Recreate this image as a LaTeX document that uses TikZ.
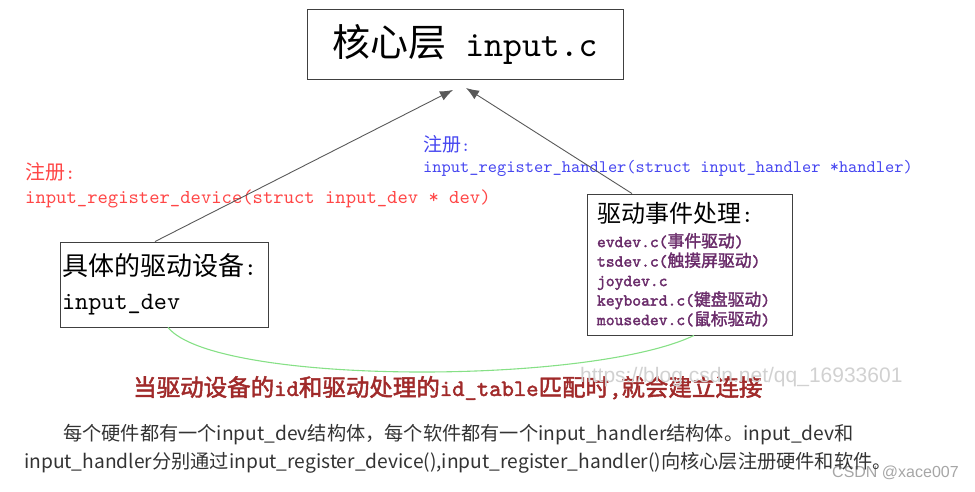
\documentclass[tikz,border=0pt]{standalone}
\usepackage{fontspec}
\usepackage{xcolor}
\usetikzlibrary{arrows.meta}
\newfontfamily\cjk[AutoFakeBold=2]{Noto Sans CJK SC}
\setmonofont[AutoFakeBold=2]{lmmono10-regular.otf}
\newfontfamily\websans{Liberation Sans}
\newcommand{\setsz}[2]{\fontsize{#1}{#2}\selectfont}
\definecolor{regred}{HTML}{FF4646}
\definecolor{regblue}{HTML}{4646F0}
\definecolor{drvpurple}{HTML}{6A2C6A}
\definecolor{linkred}{HTML}{A02A2A}
\definecolor{linkgreen}{HTML}{86E086}
\definecolor{bodygray}{HTML}{333333}

\begin{document}
\begin{tikzpicture}[x=1pt,y=-1pt,
	box/.style={draw=black!75,line width=0.9pt,inner sep=0pt},
	arr/.style={draw=black!65,line width=0.9pt,-{Latex[length=13pt,width=10pt]}},
	link/.style={draw=linkgreen,line width=1.1pt},
	lbl/.style={anchor=west,inner sep=0pt,align=left}]
	\useasboundingbox (0,0) rectangle (975,492);
	% boxes
	\node[box,minimum width=316pt,minimum height=70pt] (core) at (465,44.5)
		{{\cjk\setsz{38}{38}核心层}\texttt{\setsz{36}{38} input.c}};
	\node[box,minimum width=208pt,minimum height=85pt,text width=204pt,align=left,inner xsep=2pt,
		font={\setsz{25}{30}}] (dev) at (164,284.5)
		{{\cjk\setsz{26}{30}具体的驱动设备}\texttt{:}\\[4pt]\texttt{input\_dev}};
	\node[box,minimum width=205pt,minimum height=141pt,text width=185pt,align=left,inner xsep=10pt,
		font={\setsz{16.8}{19.5}}] (drv) at (689.5,264.5)
		{{\cjk\setsz{24}{30}驱动事件处理}\texttt{\setsz{24}{30}:}\\[5pt]
		\color{drvpurple}\bfseries
		\texttt{evdev.c(}{\cjk 事件驱动}\texttt{)}\\
		\texttt{tsdev.c(}{\cjk 触摸屏驱动}\texttt{)}\\
		\texttt{joydev.c}\\
		\texttt{keyboard.c(}{\cjk 键盘驱动}\texttt{)}\\
		\texttt{mousedev.c(}{\cjk 鼠标驱动}\texttt{)}};
	% register calls
	\node[lbl,text=regred,font={\setsz{19.7}{24}}] (regdev) at (25,185)
		{{\cjk\setsz{20}{24}注册}\texttt{:}\\\texttt{input\_register\_device(struct input\_dev * dev)}};
	\node[lbl,text=regblue,font={\setsz{17.6}{21}}] (reghandler) at (423,155.5)
		{{\cjk\setsz{19}{21}注册}\texttt{:}\\\texttt{input\_register\_handler(struct input\_handler *handler)}};
	\node[lbl,text=linkred,font={\bfseries\setsz{23.5}{24}}] (idmatch) at (133,388)
		{{\cjk 当驱动设备的}\texttt{id}{\cjk 和驱动处理的}\texttt{id\_table}{\cjk 匹配时}\texttt{,}{\cjk 就会建立连接}};
	% watermarks
	\node[lbl,text=black!18,font={\websans\setsz{21}{21}}] (wmurl) at (580,377) {https://blog.csdn.net/qq\_16933601};
	\node[lbl,text=black!35,font={\websans\setsz{16}{16}}] (wmcsdn) at (832,473) {CSDN @xace007};
	% caption
	\node[lbl,text=bodygray,font={\cjk\setsz{19.2}{22}}] (para1) at (63,435)
		{每个硬件都有一个input\_dev结构体，每个软件都有一个input\_handler结构体。input\_dev和};
	\node[lbl,text=bodygray,font={\cjk\setsz{19.2}{22}}] (para2) at (24,463)
		{input\_handler分别通过input\_register\_device(),input\_register\_handler()向核心层注册硬件和软件。};
	% connectors
	\draw[arr] ([xshift=-9pt]dev.north) -- ([xshift=-12pt,yshift=-10pt]core.south);
	\draw[arr] ([xshift=-57.5pt]drv.north) -- ([xshift=1pt,yshift=-8pt]core.south);
	\draw[link] ([xshift=4pt]dev.south) .. controls +(47,58) and +(-104,50) .. ([xshift=4.5pt]drv.south);
\end{tikzpicture}
\end{document}
